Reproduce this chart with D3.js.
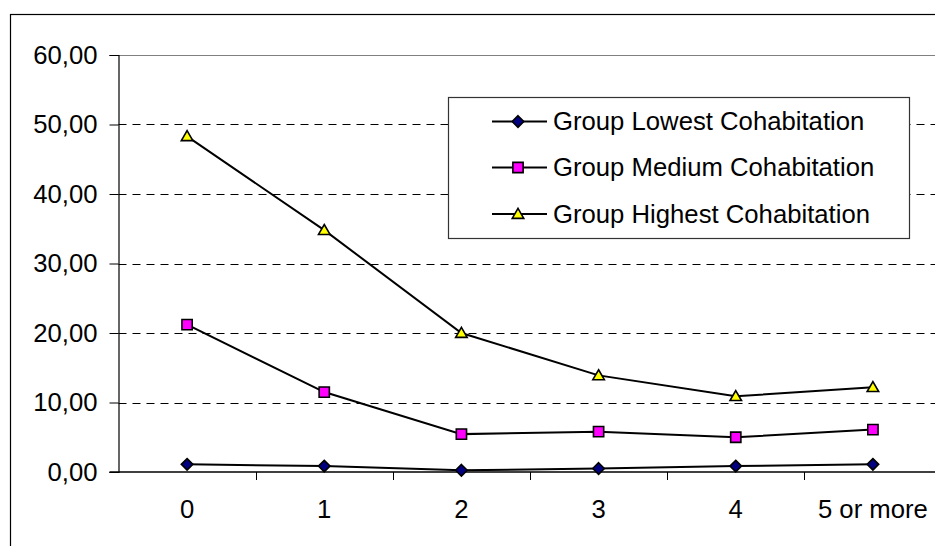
<!DOCTYPE html>
<html>
<head>
<meta charset="utf-8">
<script src="https://cdn.jsdelivr.net/npm/d3@7"></script>
<style>
  html, body { margin: 0; padding: 0; background: #fff; }
  svg { display: block; font-family: "Liberation Sans", Arial, sans-serif; }
</style>
</head>
<body>
<svg id="chart" width="935" height="546"></svg>
<script>
// Number of children categories
const categories = ["0", "1", "2", "3", "4", "5 or more"];

// Series values per category
const lowest  = [1.10, 0.85, 0.25, 0.50, 0.85, 1.10];
const medium  = [21.20, 11.50, 5.45, 5.80, 5.00, 6.10];
const highest = [48.30, 34.80, 20.00, 13.90, 10.90, 12.20];

const seriesNames = ["Group Lowest Cohabitation", "Group Medium Cohabitation", "Group Highest Cohabitation"];
const yTicks = [0, 10, 20, 30, 40, 50, 60];

const series = [
  { name: seriesNames[0], values: lowest,  shape: "diamond",  fill: "#000080" },
  { name: seriesNames[1], values: medium,  shape: "square",   fill: "#FF00FF" },
  { name: seriesNames[2], values: highest, shape: "triangle", fill: "#FFFF00" }
];

const FONT = "25.7px";
const svg = d3.select("#chart");
const plot = { left: 118.5, top: 55, right: 941.5, bottom: 472 };

const x = d3.scaleBand().domain(categories).range([plot.left, plot.right]);
const y = d3.scaleLinear().domain([0, 60]).range([plot.bottom, plot.top]);

const fmt = v => d3.format(".2f")(v).replace(".", ",");

// Outer chart frame
svg.append("rect")
  .attr("x", 10.5).attr("y", 14.5)
  .attr("width", 1000).attr("height", 600)
  .attr("fill", "none").attr("stroke", "#000").attr("stroke-width", 1.2);

// Plot area top border
svg.append("line")
  .attr("x1", plot.left).attr("x2", 935)
  .attr("y1", y(60) + 0.5).attr("y2", y(60) + 0.5)
  .attr("stroke", "#808080").attr("stroke-width", 1.2);

// Dashed gridlines
svg.append("g").selectAll("line")
  .data(yTicks.filter(t => t > 0 && t < 60))
  .join("line")
  .attr("x1", plot.left).attr("x2", 935)
  .attr("y1", d => Math.round(y(d)) + 0.5).attr("y2", d => Math.round(y(d)) + 0.5)
  .attr("stroke", "#000").attr("stroke-width", 1)
  .attr("stroke-dasharray", "8,6");

// Y axis
const yAxis = svg.append("g")
  .attr("transform", `translate(${plot.left},0)`)
  .call(d3.axisLeft(y).tickValues(yTicks).tickFormat(fmt).tickSize(9).tickPadding(12));
yAxis.select(".domain").attr("stroke", "#000").attr("stroke-width", 1.2);
yAxis.selectAll(".tick line").attr("stroke", "#000");
yAxis.selectAll("text")
  .attr("fill", "#000").style("font-size", FONT)
  .style("font-family", "'Liberation Sans', Arial, sans-serif");

// X axis
const xAxis = svg.append("g")
  .attr("transform", `translate(0,${plot.bottom})`)
  .call(d3.axisBottom(x).tickSize(0).tickPadding(28));
xAxis.select(".domain").remove();
xAxis.selectAll("text")
  .attr("fill", "#000").style("font-size", FONT)
  .style("font-family", "'Liberation Sans', Arial, sans-serif");

// Category boundary ticks and baseline
const bounds = categories.map(c => x(c)).concat([x(categories[categories.length - 1]) + x.bandwidth()]);
svg.append("g").selectAll("line")
  .data(bounds.slice(1))
  .join("line")
  .attr("x1", d => Math.round(d) + 0.5).attr("x2", d => Math.round(d) + 0.5)
  .attr("y1", plot.bottom).attr("y2", plot.bottom + 8)
  .attr("stroke", "#000").attr("stroke-width", 1);
svg.append("line")
  .attr("x1", plot.left - 9).attr("x2", 935)
  .attr("y1", plot.bottom).attr("y2", plot.bottom)
  .attr("stroke", "#000").attr("stroke-width", 1.3);

// Marker shapes
const symbolFor = {
  diamond: d3.symbol().type(d3.symbolDiamond2).size(85),
  square: d3.symbol().type(d3.symbolSquare).size(105),
  triangle: d3.symbol().type(d3.symbolTriangle2).size(95)
};

const cx = c => x(c) + x.bandwidth() / 2;
const line = d3.line().x((d, i) => cx(categories[i])).y(d => y(d));

series.forEach(s => {
  svg.append("path")
    .attr("d", line(s.values))
    .attr("fill", "none").attr("stroke", "#000").attr("stroke-width", 2);
});
series.forEach(s => {
  svg.append("g").selectAll("path")
    .data(s.values)
    .join("path")
    .attr("transform", (d, i) => `translate(${cx(categories[i])},${y(d) + (s.shape === "triangle" ? 1 : 0)})`)
    .attr("d", symbolFor[s.shape])
    .attr("fill", s.fill).attr("stroke", "#000").attr("stroke-width", 1.6);
});

// Legend
const legend = svg.append("g");
legend.append("rect")
  .attr("x", 448.5).attr("y", 97.5).attr("width", 461).attr("height", 141)
  .attr("fill", "#fff").attr("stroke", "#333").attr("stroke-width", 1.2);
const rowY = [121.5, 167.5, 214];
series.forEach((s, i) => {
  const g = legend.append("g");
  g.append("line")
    .attr("x1", 492).attr("x2", 547).attr("y1", rowY[i]).attr("y2", rowY[i])
    .attr("stroke", "#000").attr("stroke-width", 2);
  g.append("path")
    .attr("transform", `translate(518,${rowY[i] + (s.shape === "triangle" ? 1 : 0)})`)
    .attr("d", symbolFor[s.shape])
    .attr("fill", s.fill).attr("stroke", "#000").attr("stroke-width", 1.6);
  g.append("text")
    .attr("x", 553).attr("y", rowY[i])
    .attr("dy", "0.35em")
    .attr("fill", "#000").style("font-size", FONT)
    .text(s.name);
});
</script>
</body>
</html>
